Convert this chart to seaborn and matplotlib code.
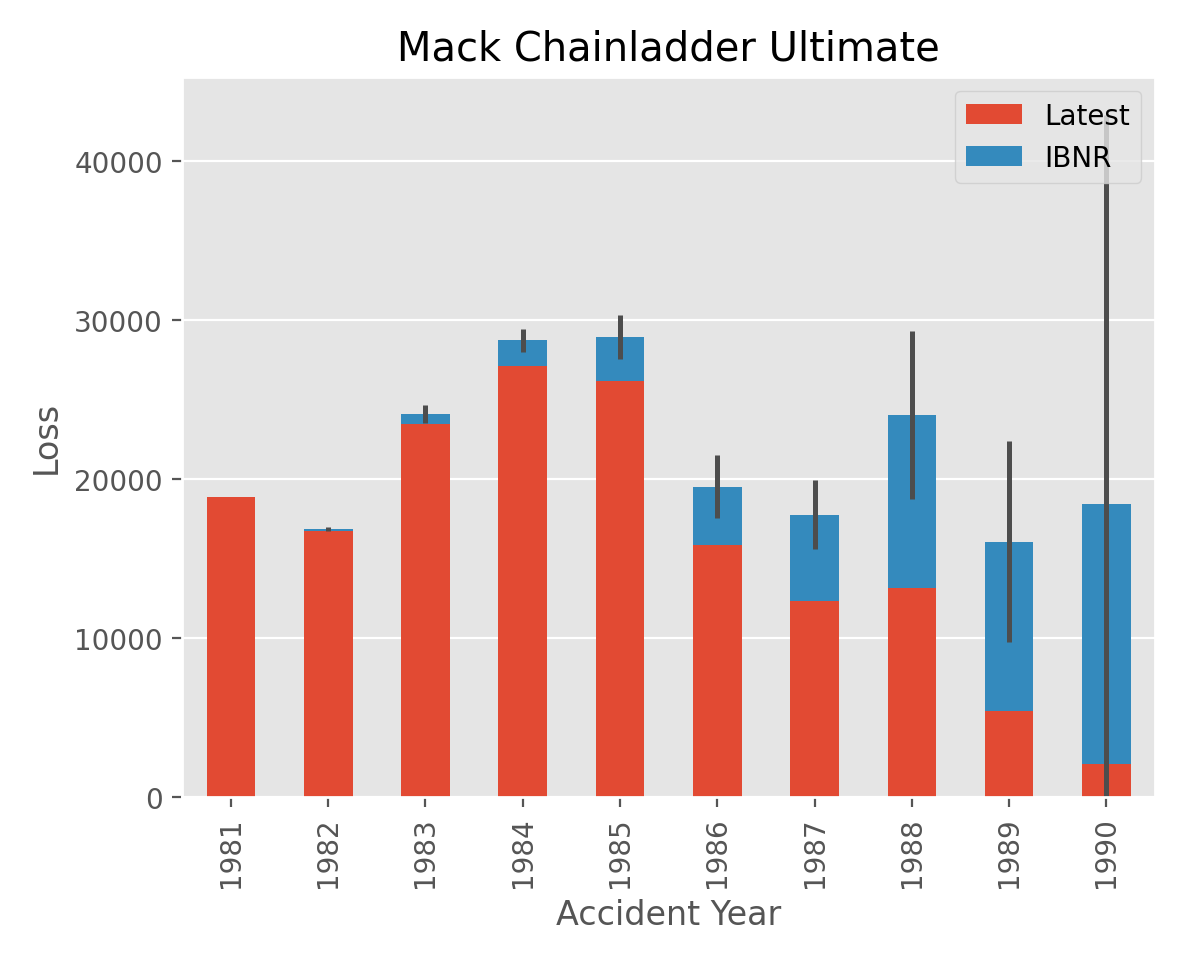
import numpy as np
import matplotlib
matplotlib.use("Agg")
import matplotlib.pyplot as plt
import seaborn as sns

# Data
years = ["1981", "1982", "1983", "1984", "1985", "1986", "1987", "1988", "1989", "1990"]
latest = [18834, 16704, 23466, 27067, 26180, 15852, 12314, 13112, 5395, 2063]
ultimate = [18834, 16858, 24083, 28703, 28927, 19501, 17749, 24019, 16045, 18402]
std_err = [0, 120, 550, 700, 1400, 2000, 2150, 5300, 6300, 24500]

ibnr = [u - l for u, l in zip(ultimate, latest)]

plt.style.use("ggplot")
fig, ax = plt.subplots(figsize=(5.925, 4.81), dpi=200)

sns.barplot(x=years, y=latest, color="#E24A33", width=0.5, saturation=1,
            label="Latest", ax=ax)
sns.barplot(x=years, y=ibnr, bottom=latest, color="#348ABD", width=0.5,
            saturation=1, label="IBNR", ax=ax)

# Error bars on ultimate
ax.errorbar(np.arange(len(years)), ultimate, yerr=std_err, fmt="none",
            ecolor="#4d4d4d", elinewidth=1.8, capsize=0)

ax.set_ylim(0, 45300)
ax.set_xlim(-0.5, len(years) - 0.5)
ax.set_title("Mack Chainladder Ultimate")
ax.set_xlabel("Accident Year")
ax.set_ylabel("Loss")
ax.tick_params(axis="x", rotation=90)
ax.legend(loc="upper right", facecolor="#E5E5E5")

plt.tight_layout()
plt.savefig("out.png", dpi=200)
